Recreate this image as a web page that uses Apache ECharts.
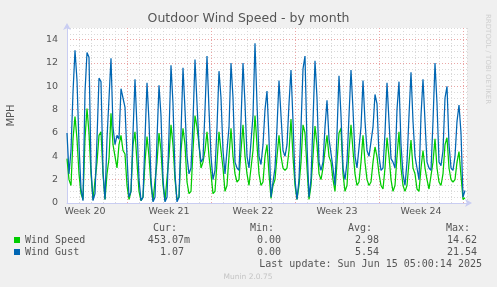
<!DOCTYPE html>
<html><head><meta charset="utf-8">
<script src="https://cdn.jsdelivr.net/npm/echarts@6/dist/echarts.min.js"></script>
<style>html,body{margin:0;padding:0;background:#f0f0f0}#c{width:497px;height:287px}</style>
</head><body><div id="c"></div>
<script>
// Time axis: days since Tue May 13 00:00 (plot start); samples every 4 hours.
const sampleStepDays = 1 / 6;
const spanDays = 400 / 12;
const weekLabels = ['Week 20', 'Week 21', 'Week 22', 'Week 23', 'Week 24'];
const weekCenters = [1.5, 8.5, 15.5, 22.5, 29.5];

const windSpeed = [
  3.8, 2.0, 1.5, 5.5, 7.4, 5.5,
  2.5, 0.8, 0.3, 5.5, 8.1, 6.0,
  2.5, 0.3, 0.2, 3.5, 5.8, 6.1,
  2.5, 0.3, 2.5, 3.8, 7.7, 5.0,
  4.0, 3.0, 5.0, 5.8, 4.5, 4.2,
  1.5, 0.3, 1.0, 5.0, 6.1, 3.5,
  1.0, 0.2, 0.5, 3.5, 5.7, 4.0,
  1.5, 0.2, 0.3, 3.5, 6.0, 4.5,
  1.5, 0.2, 0.3, 4.0, 6.7, 5.0,
  2.0, 0.3, 0.5, 4.5, 6.4, 5.0,
  1.8, 0.8, 1.0, 4.5, 7.5, 6.5,
  5.0, 3.0, 3.5, 4.5, 6.1, 4.0,
  2.5, 0.8, 1.0, 3.5, 6.1, 4.5,
  3.0, 1.0, 1.5, 4.0, 6.4, 4.0,
  2.5, 1.8, 2.0, 4.5, 6.7, 4.0,
  2.5, 1.5, 1.5, 4.5, 7.5, 5.0,
  2.5, 1.5, 1.8, 4.0, 5.0, 2.5,
  0.4, 1.5, 2.0, 4.0, 5.8, 4.0,
  3.0, 2.8, 3.0, 4.5, 7.2, 4.0,
  1.5, 0.3, 1.5, 3.5, 6.7, 6.0,
  3.0, 0.3, 1.5, 4.0, 6.6, 5.0,
  2.5, 2.0, 3.0, 4.5, 5.8, 4.0,
  3.5, 2.0, 1.0, 3.5, 6.0, 6.4,
  2.5, 1.0, 1.5, 4.5, 6.7, 4.5,
  2.5, 1.5, 1.8, 3.5, 5.8, 3.5,
  2.0, 1.5, 1.8, 3.5, 4.8, 4.0,
  2.5, 1.5, 1.2, 3.0, 5.6, 4.0,
  2.0, 1.0, 1.5, 4.0, 6.1, 3.0,
  1.5, 1.0, 1.5, 3.5, 5.4, 3.0,
  2.5, 1.2, 1.0, 3.0, 4.5, 3.0,
  2.0, 1.2, 1.2, 3.5, 5.5, 3.0,
  1.8, 1.5, 2.5, 5.0, 5.6, 3.0,
  2.0, 1.8, 2.0, 3.5, 4.4, 4.3,
  0.3, 0.45
];

const windGust = [
  6.0, 2.5, 4.5, 9.5, 13.1, 10.5,
  5.0, 1.2, 0.2, 9.5, 12.9, 12.5,
  3.0, 0.2, 0.8, 5.5, 10.7, 10.4,
  2.7, 0.3, 5.5, 5.5, 12.4, 6.5,
  5.0, 5.8, 5.5, 9.8, 9.0, 8.2,
  4.0, 0.5, 1.0, 6.0, 10.6, 6.5,
  2.0, 0.2, 0.5, 5.5, 10.3, 7.0,
  2.0, 0.1, 0.5, 5.5, 10.1, 7.5,
  2.0, 0.1, 0.5, 6.0, 11.8, 8.5,
  2.5, 0.1, 0.5, 6.0, 11.6, 8.0,
  4.0, 2.5, 3.0, 7.0, 12.3, 8.5,
  5.0, 3.5, 3.8, 8.0, 12.6, 8.0,
  4.0, 2.0, 2.8, 6.5, 11.3, 9.0,
  4.5, 2.5, 2.5, 6.5, 12.0, 9.0,
  3.5, 3.0, 2.8, 7.0, 12.0, 8.5,
  4.0, 3.0, 3.0, 7.5, 13.7, 8.5,
  4.0, 3.3, 5.0, 8.0, 9.6, 5.5,
  0.5, 1.8, 3.0, 6.5, 10.5, 7.5,
  4.5, 4.0, 5.0, 8.5, 11.4, 7.0,
  2.0, 0.3, 2.0, 6.5, 11.5, 12.6,
  5.0, 0.5, 2.0, 7.0, 12.2, 9.0,
  3.5, 2.8, 3.5, 6.5, 8.8, 5.5,
  5.5, 3.0, 1.5, 6.0, 10.9, 7.5,
  3.0, 2.0, 3.5, 7.5, 11.4, 8.0,
  4.0, 3.0, 3.0, 6.5, 10.5, 7.0,
  4.5, 4.0, 4.0, 6.5, 9.3, 8.5,
  4.0, 2.8, 3.0, 6.0, 10.3, 7.0,
  3.8, 3.5, 3.0, 8.0, 10.4, 5.0,
  2.5, 1.5, 3.5, 7.5, 11.2, 7.0,
  4.0, 3.0, 2.0, 7.5, 10.6, 7.0,
  3.5, 3.0, 2.8, 7.0, 12.0, 8.5,
  3.5, 3.2, 4.5, 9.0, 10.0, 5.0,
  3.0, 2.8, 4.0, 7.0, 8.4, 6.0,
  0.5, 1.07
];

const seriesNames = ['Wind Speed', 'Wind Gust'];
const seriesColors = ['#00cc00', '#0066b3'];
const statHeaders = ['Cur:', 'Min:', 'Avg:', 'Max:'];
const speedStats = ['453.07m', '0.00 ', '2.98 ', '14.62 '];
const gustStats = ['1.07 ', '0.00 ', '5.54 ', '21.54 '];
const lastUpdate = 'Last update: Sun Jun 15 05:00:14 2025';

const GRAY = '#d9d9d9', RED = '#eaa6a6';
const toPairs = arr => arr.map((v, i) => [i * sampleStepDays, v]);
const mono = '10px "DejaVu Sans Mono"';
const colRight = [190, 287, 385, 483];
const headRight = [177, 274, 372, 470];

const graphics = [];
statHeaders.forEach((t, k) => graphics.push({type:'text', x: headRight[k], y: 228,
  style:{text:t, font:mono, fill:'#555', textAlign:'right', textVerticalAlign:'middle'}}));
[speedStats, gustStats].forEach((row, r) => row.forEach((t, k) => graphics.push({type:'text',
  x: colRight[k], y: 240 + 12 * r,
  style:{text:t, font:mono, fill:'#555', textAlign:'right', textVerticalAlign:'middle'}})));
graphics.push({type:'text', x: 482, y: 264, style:{text:lastUpdate, font:mono, fill:'#555', textAlign:'right', textVerticalAlign:'middle'}});
graphics.push({type:'text', x: 248, y: 277, style:{text:'Munin 2.0.75', font:'7.5px "DejaVu Sans"', fill:'#c4c4c4', textAlign:'center', textVerticalAlign:'middle'}});
graphics.push({type:'text', x: 488, y: 14, rotation: -Math.PI / 2, style:{text:'RRDTOOL / TOBI OETIKER', font:'7px "DejaVu Sans"', fill:'#cfcfcf', textAlign:'left', textVerticalAlign:'middle'}});

const chart = echarts.init(document.getElementById('c'), null, {renderer:'canvas'});
chart.setOption({
  animation: false,
  backgroundColor: '#f0f0f0',
  title: {text:'Outdoor Wind Speed - by month', left:'center', top:12, padding:0,
    textStyle:{fontFamily:'DejaVu Sans', fontSize:12.5, fontWeight:'normal', color:'#555'}},
  grid: {left:67, right:30, top:28, bottom:84, show:true, backgroundColor:'#ffffff', borderWidth:0,
    containLabel:false, outerBoundsMode:'none'},
  legend: {left:14, top:234, padding:0, orient:'vertical', itemWidth:6, itemHeight:6, itemGap:0, icon:'rect',
    selectedMode:false, data: seriesNames,
    textStyle:{fontFamily:'DejaVu Sans Mono', fontSize:10, color:'#555', lineHeight:12}},
  xAxis: [
    {type:'value', min:0, max:spanDays, interval:1,
      axisLine:{show:true, lineStyle:{color:'#c9cdf2', width:1}, symbol:['none','arrow'], symbolSize:[6,7], symbolOffset:[0,5]},
      axisTick:{show:false}, axisLabel:{show:false},
      splitLine:{show:true, lineStyle:{color:[GRAY,GRAY,GRAY,GRAY,GRAY,RED,GRAY], type:[1,2], width:1}}},
    {type:'value', min:0, max:spanDays, interval:0.5, position:'bottom',
      axisLine:{show:false}, axisTick:{show:false}, splitLine:{show:false},
      axisLabel:{show:true, margin:4, color:'#555', fontFamily:'DejaVu Sans', fontSize:9.5,
        formatter: v => { const k = weekCenters.indexOf(Math.round(v * 2) / 2); return k >= 0 ? weekLabels[k] : ''; }}}
  ],
  yAxis: {type:'value', min:0, max:15, interval:0.5,
    name:'MPH', nameLocation:'middle', nameRotate:90, nameGap:51,
    nameTextStyle:{fontFamily:'DejaVu Sans', fontSize:10, color:'#555'},
    axisLine:{show:true, lineStyle:{color:'#c9cdf2', width:1}, symbol:['none','arrow'], symbolSize:[6,7], symbolOffset:[0,5]},
    axisTick:{show:false},
    axisLabel:{margin:9, color:'#555', fontFamily:'DejaVu Sans', fontSize:9.5,
      formatter: v => (Math.abs(v % 2) < 1e-9 && v < 15) ? String(Math.round(v)) : ''},
    splitLine:{show:true, lineStyle:{color:[RED,GRAY,GRAY,GRAY], type:[1,2], width:1}}},
  graphic: graphics,
  series: [
    {name: seriesNames[0], type:'line', data: toPairs(windSpeed), showSymbol:false, symbol:'none',
      lineStyle:{width:1.25, color:seriesColors[0]}, itemStyle:{color:seriesColors[0]}, z:3},
    {name: seriesNames[1], type:'line', data: toPairs(windGust), showSymbol:false, symbol:'none',
      lineStyle:{width:1.25, color:seriesColors[1]}, itemStyle:{color:seriesColors[1]}, z:4}
  ]
});
</script></body></html>
